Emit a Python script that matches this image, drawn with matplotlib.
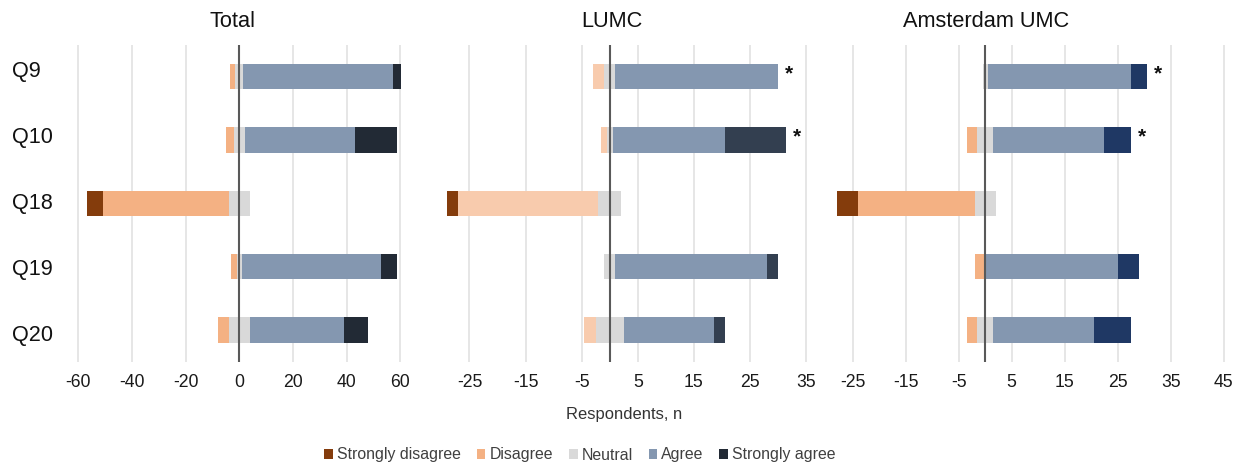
import matplotlib
matplotlib.use("Agg")
import matplotlib.pyplot as plt
from matplotlib.patches import Patch

plt.rcParams['font.family'] = ['Liberation Sans', 'DejaVu Sans']

# ---------------- data ----------------
questions = ['Q9', 'Q10', 'Q18', 'Q19', 'Q20']
categories = ['Strongly disagree', 'Disagree', 'Neutral', 'Agree', 'Strongly agree']

total_sd = [0, 0, 6, 0, 0]
total_d = [2, 3, 47, 2, 4]
total_n = [3, 4, 8, 2, 8]
total_a = [56, 41, 0, 52, 35]
total_sa = [3, 16, 0, 6, 9]

lumc_sd = [0, 0, 2, 0, 0]
lumc_d = [2, 1, 25, 0, 2]
lumc_n = [2, 1, 4, 2, 5]
lumc_a = [29, 20, 0, 27, 16]
lumc_sa = [0, 11, 0, 2, 2]

aumc_sd = [0, 0, 4, 0, 0]
aumc_d = [0, 2, 22, 2, 2]
aumc_n = [1, 3, 4, 0, 3]
aumc_a = [27, 21, 0, 25, 19]
aumc_sa = [3, 5, 0, 4, 7]

total_sig = [False, False, False, False, False]
lumc_sig = [True, True, False, False, False]
aumc_sig = [True, True, False, False, False]

total_ticks = [-60, -40, -20, 0, 20, 40, 60]
lumc_ticks = [-25, -15, -5, 5, 15, 25, 35]
aumc_ticks = [-25, -15, -5, 5, 15, 25, 35, 45]

# ---------------- styling ----------------
W, H = 1242, 468
fig = plt.figure(figsize=(W / 100, H / 100), dpi=100)

c_sd = '#843C0C'
c_n = '#D9D9D9'
c_a = '#8497B0'

panels = [
    dict(title='Total', data=(total_sd, total_d, total_n, total_a, total_sa), sig=total_sig,
         ticks=total_ticks, xlim=(-62, 62), px=(73.1, 405.5), title_x=232,
         c_d='#F4B183', c_sa='#222A35'),
    dict(title='LUMC', data=(lumc_sd, lumc_d, lumc_n, lumc_a, lumc_sa), sig=lumc_sig,
         ticks=lumc_ticks, xlim=(-30, 36), px=(441.4, 811.7), title_x=612,
         c_d='#F8CBAD', c_sa='#333F50'),
    dict(title='Amsterdam UMC', data=(aumc_sd, aumc_d, aumc_n, aumc_a, aumc_sa), sig=aumc_sig,
         ticks=aumc_ticks, xlim=(-30, 46), px=(826.2, 1229.0), title_x=986,
         c_d='#F4B183', c_sa='#1F3864'),
]

top_px, bot_px = 45.0, 361.7
bar_h = 0.4

for k, p in enumerate(panels):
    l, r = p['px']
    ax = fig.add_axes([l / W, 1 - bot_px / H, (r - l) / W, (bot_px - top_px) / H])
    sd, d, n, a, sa = p['data']
    ys = list(range(len(questions)))
    left_n = [-v / 2 for v in n]
    left_d = [ln - dv for ln, dv in zip(left_n, d)]
    left_sd = [ld - sv for ld, sv in zip(left_d, sd)]
    left_a = [v / 2 for v in n]
    left_sa = [la + av for la, av in zip(left_a, a)]
    ax.barh(ys, sd, left=left_sd, height=bar_h, color=c_sd, zorder=3)
    ax.barh(ys, d, left=left_d, height=bar_h, color=p['c_d'], zorder=3)
    ax.barh(ys, n, left=left_n, height=bar_h, color=c_n, zorder=3)
    ax.barh(ys, a, left=left_a, height=bar_h, color=c_a, zorder=3)
    ax.barh(ys, sa, left=left_sa, height=bar_h, color=p['c_sa'], zorder=3)

    for i, s in enumerate(p['sig']):
        if s:
            end = left_sa[i] + sa[i]
            ax.annotate('*', xy=(end, i), xytext=(5, 2), textcoords='offset points',
                        ha='left', va='center', fontsize=15, fontweight='bold',
                        color='#111111', zorder=5)

    ax.set_xlim(*p['xlim'])
    ax.set_ylim(len(questions) - 0.5, -0.5)
    ax.set_xticks(p['ticks'])
    ax.set_xticklabels([str(t) for t in p['ticks']])
    ax.set_yticks([])
    ax.grid(axis='x', color='#E2E2E2', linewidth=1.2, zorder=0)
    ax.axvline(0, color='#595959', linewidth=1.5, zorder=4)
    for sp in ax.spines.values():
        sp.set_visible(False)
    ax.tick_params(axis='x', length=0, pad=9, labelsize=12.7, labelcolor='#1a1a1a')
    ax.set_axisbelow(True)

    fig.text(p['title_x'] / W, 1 - 21.5 / H, p['title'], ha='center', va='center',
             fontsize=15.7, color='#111111')

# category labels on the left
for i, q in enumerate(questions):
    ypx = 71.3 + 66 * i
    fig.text(12 / W, 1 - ypx / H, q, ha='left', va='center', fontsize=15.6, color='#111111')

fig.text(624 / W, 1 - 415 / H, 'Respondents, n', ha='center', va='center',
         fontsize=11.9, color='#333333')

legend_colors = [c_sd, '#F4B183', c_n, c_a, '#222A35']
handles = [Patch(facecolor=c, edgecolor='none', label=lab) for c, lab in zip(legend_colors, categories)]
leg = fig.legend(handles=handles, loc='center', bbox_to_anchor=(580 / W, 1 - 455 / H), ncol=5,
                 frameon=False, fontsize=11.4, handlelength=0.55, handleheight=0.55,
                 handletextpad=0.25, columnspacing=1.0, borderaxespad=0)
for t in leg.get_texts():
    t.set_color('#404040')

fig.savefig('out.png', dpi=100)
